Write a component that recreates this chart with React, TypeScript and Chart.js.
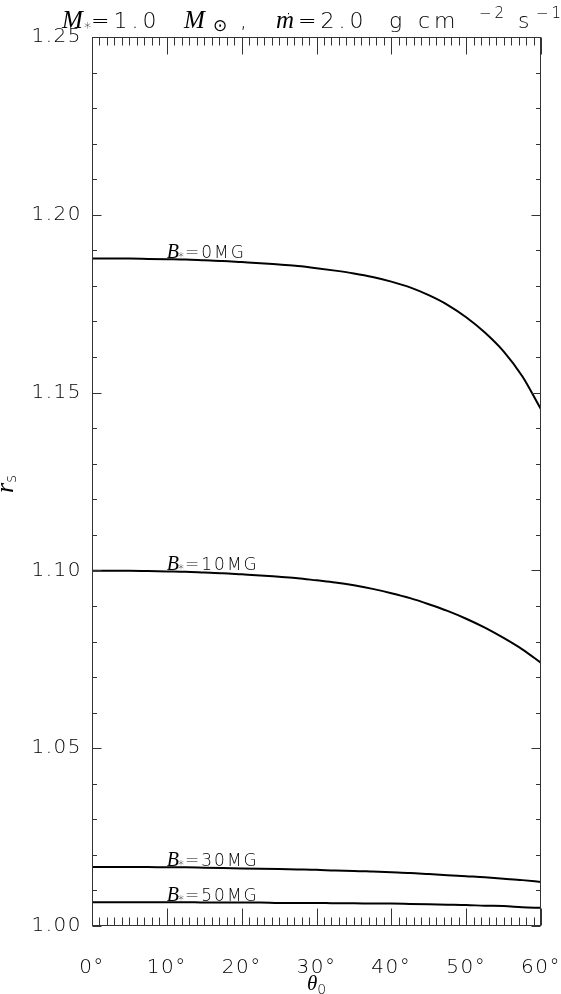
import React, { useEffect, useRef } from "react";
import { Chart, registerables } from "chart.js";

Chart.register(...registerables);

// ---- data ----
const THETA_DEG = [0, 2.5, 5, 7.5, 10, 12.5, 15, 17.5, 20, 22.5, 25, 27.5, 30, 32.5, 35, 37.5, 40, 42.5, 45, 47.5, 50, 52.5, 55, 57.5, 60];
const RS_B0 = [1.1877, 1.1877, 1.1877, 1.1876, 1.1875, 1.1874, 1.1872, 1.187, 1.1867, 1.1864, 1.186, 1.1856, 1.185, 1.1843, 1.1835, 1.1825, 1.1812, 1.1796, 1.1774, 1.1747, 1.1712, 1.1669, 1.1616, 1.1546, 1.1453];
const RS_B10 = [1.0999, 1.0999, 1.0999, 1.0998, 1.0997, 1.0996, 1.0994, 1.0992, 1.0989, 1.0986, 1.0982, 1.0978, 1.0972, 1.0966, 1.0958, 1.0948, 1.0936, 1.0922, 1.0905, 1.0886, 1.0864, 1.0839, 1.081, 1.0778, 1.074];
const RS_B30 = [1.0166, 1.0166, 1.0166, 1.0166, 1.0165, 1.0165, 1.0164, 1.0163, 1.0162, 1.0161, 1.016, 1.0159, 1.0158, 1.0156, 1.0155, 1.0153, 1.0151, 1.0149, 1.0146, 1.0143, 1.014, 1.0137, 1.0133, 1.0129, 1.0124];
const RS_B50 = [1.0067, 1.0067, 1.0067, 1.0067, 1.0067, 1.0067, 1.0066, 1.0066, 1.0066, 1.0066, 1.0065, 1.0065, 1.0065, 1.0064, 1.0064, 1.0063, 1.0063, 1.0062, 1.0061, 1.006, 1.0059, 1.0057, 1.0056, 1.0053, 1.0051];
const SERIES = [RS_B0, RS_B10, RS_B30, RS_B50];
const FIELD_MG = [0, 10, 30, 50];
const LABEL_THETA = 10;

const X_MIN = 0, X_MAX = 60, X_MAJOR = 10, X_MINOR = 1;
const Y_MIN = 1.0, Y_MAX = 1.25, Y_MAJOR = 0.05, Y_MINOR = 0.01;

const SANS = '"DejaVu Sans"';
const SERIF = '"Liberation Serif"';
const TICK_FONT_SIZE = 20;
const LIGHT = "200";

type Run = { t: string; font: string; dy?: number; pre?: number; x?: number; ls?: string };

function drawRuns(ctx: CanvasRenderingContext2D, x: number, y: number, runs: Run[]) {
  for (const r of runs) {
    ctx.font = r.font;
    (ctx as any).letterSpacing = r.ls || "0px";
    if (r.x !== undefined) x = r.x;
    x += r.pre || 0;
    ctx.fillText(r.t, x, y + (r.dy || 0));
    x += ctx.measureText(r.t).width;
  }
  return x;
}
function runsWidth(ctx: CanvasRenderingContext2D, runs: Run[]) {
  let w = 0;
  for (const r of runs) {
    ctx.font = r.font;
    (ctx as any).letterSpacing = r.ls || "0px";
    w += (r.pre || 0) + ctx.measureText(r.t).width;
  }
  return w;
}

const idlFrame = {
  id: "idlFrame",
  beforeDraw(chart: any) {
    (chart.ctx as any).letterSpacing = "1.5px";
  },
  afterDraw(chart: any) {
    const ctx: CanvasRenderingContext2D = chart.ctx;
    const { left, right, top, bottom } = chart.chartArea;
    const xs = chart.scales.x;
    const ys = chart.scales.y;
    ctx.save();
    (ctx as any).letterSpacing = "0px";
    ctx.strokeStyle = "#333";
    ctx.lineWidth = 1;
    const line = (x1: number, y1: number, x2: number, y2: number) => {
      ctx.beginPath();
      ctx.moveTo(x1, y1);
      ctx.lineTo(x2, y2);
      ctx.stroke();
    };
    const L = Math.round(left) + 0.5, R = Math.round(right) - 0.5;
    const T = Math.round(top) + 0.5, B = Math.round(bottom) - 0.5;
    ctx.strokeRect(L, T, R - L, B - T);
    const nx = Math.round((X_MAX - X_MIN) / X_MINOR);
    const perX = Math.round(X_MAJOR / X_MINOR);
    for (let i = 0; i <= nx; i++) {
      const v = X_MIN + i * X_MINOR;
      const len = i % perX === 0 ? 17 : 8;
      const px = Math.round(xs.getPixelForValue(v)) + 0.5;
      line(px, B, px, B - len);
      line(px, T, px, T + len);
    }
    const ny = Math.round((Y_MAX - Y_MIN) / Y_MINOR);
    const perY = Math.round(Y_MAJOR / Y_MINOR);
    for (let i = 0; i <= ny; i++) {
      const v = Y_MIN + i * Y_MINOR;
      const len = i % perY === 0 ? 9 : 4.5;
      const py = Math.round(ys.getPixelForValue(v)) + 0.5;
      line(L, py, L + len, py);
      line(R, py, R - len, py);
    }

    ctx.fillStyle = "#000";
    ctx.textAlign = "left";
    ctx.textBaseline = "alphabetic";

    const serifIt = (px: number) => `italic normal ${px}px ${SERIF}`;
    const sans = (px: number) => `${LIGHT} ${px}px ${SANS}`;

    // curve labels
    const li = THETA_DEG.indexOf(LABEL_THETA);
    SERIES.forEach((s, k) => {
      const x = xs.getPixelForValue(LABEL_THETA);
      const y = ys.getPixelForValue(s[li]) - 1;
      drawRuns(ctx, x, y, [
        { t: "B", font: serifIt(20) },
        { t: "*", font: sans(12), dy: 3, pre: -1 },
        { t: "=" + FIELD_MG[k] + "MG", font: sans(17), ls: "2px", pre: 1 },
      ]);
    });

    // title
    const ty = 28;
    const tf = sans(22);
    const tm = serifIt(25);
    drawRuns(ctx, 62, ty, [
      { t: "M", font: tm, x: 62 },
      { t: "*", font: sans(14), dy: 4, x: 84 },
      { t: "=1.0", font: tf, ls: "4px", x: 91 },
      { t: "M", font: tm, x: 184 },
      { t: "\u2299", font: sans(17), dy: 3, x: 213 },
      { t: ",", font: tf, x: 240 },
      { t: "m", font: tm, x: 276 },
      { t: "\u02D9", font: sans(22), x: 283, dy: 0 },
      { t: "=2.0", font: tf, ls: "4px", x: 298 },
      { t: "g", font: tf, x: 389 },
      { t: "cm", font: tf, ls: "4px", x: 418 },
      { t: "\u22122", font: sans(15), dy: -10, ls: "3px", x: 479 },
      { t: "s", font: tf, x: 518 },
      { t: "\u22121", font: sans(15), dy: -10, ls: "3px", x: 536 },
    ]);

    // x title
    const xr: Run[] = [
      { t: "\u03B8", font: serifIt(21) },
      { t: "0", font: sans(14), dy: 4 },
    ];
    const xw = runsWidth(ctx, xr);
    drawRuns(ctx, (left + right) / 2 - xw / 2, 990, xr);

    // y title (rotated)
    ctx.save();
    ctx.translate(13, 484);
    ctx.rotate(-Math.PI / 2);
    const yr: Run[] = [
      { t: "r", font: serifIt(26) },
      { t: "s", font: sans(15), dy: 3 },
    ];
    const yw = runsWidth(ctx, yr);
    drawRuns(ctx, -yw / 2, 0, yr);
    ctx.restore();

    ctx.restore();
    (ctx as any).letterSpacing = "0px";
  },
};

export default function App() {
  const ref = useRef<HTMLCanvasElement | null>(null);
  useEffect(() => {
    if (!ref.current) return;
    const datasets = SERIES.map((s, k) => ({
      label: `B=${FIELD_MG[k]}MG`,
      data: THETA_DEG.map((t, i) => ({ x: t, y: s[i] })),
      borderColor: "#000",
      borderWidth: 2,
      pointRadius: 0,
      fill: false,
      cubicInterpolationMode: "monotone" as const,
    }));
    const chart = new Chart(ref.current, {
      type: "line",
      data: { datasets },
      options: {
        responsive: false,
        animation: false,
        events: [],
        layout: { padding: { top: 37, right: 20, left: 0, bottom: 0 } },
        plugins: { legend: { display: false }, tooltip: { enabled: false }, title: { display: false } },
        scales: {
          x: {
            type: "linear",
            min: X_MIN,
            max: X_MAX,
            grid: { display: false, drawTicks: false },
            border: { display: false },
            ticks: {
              stepSize: X_MAJOR,
              color: "#000",
              font: { family: "DejaVu Sans", size: TICK_FONT_SIZE, weight: LIGHT as any },
              padding: 30,
              maxRotation: 0,
              callback: (v: any) => `${v}\u00B0`,
            },
            afterFit: (s: any) => {
              s.height = 68;
              s.paddingLeft = 0;
              s.paddingRight = 0;
            },
          },
          y: {
            type: "linear",
            min: Y_MIN,
            max: Y_MAX,
            grid: { display: false, drawTicks: false },
            border: { display: false },
            ticks: {
              stepSize: Y_MAJOR,
              color: "#000",
              font: { family: "DejaVu Sans", size: TICK_FONT_SIZE, weight: LIGHT as any },
              padding: 10,
              callback: (v: any) => Number(v).toFixed(2),
            },
            afterFit: (s: any) => {
              s.width = 92;
              s.paddingTop = 0;
              s.paddingBottom = 0;
            },
          },
        },
      },
      plugins: [idlFrame],
    });
    return () => chart.destroy();
  }, []);
  return (
    <canvas
      ref={ref}
      width={561}
      height={994}
      style={{ position: "absolute", left: 0, top: 0, width: 561, height: 994, background: "#fff" }}
    />
  );
}
